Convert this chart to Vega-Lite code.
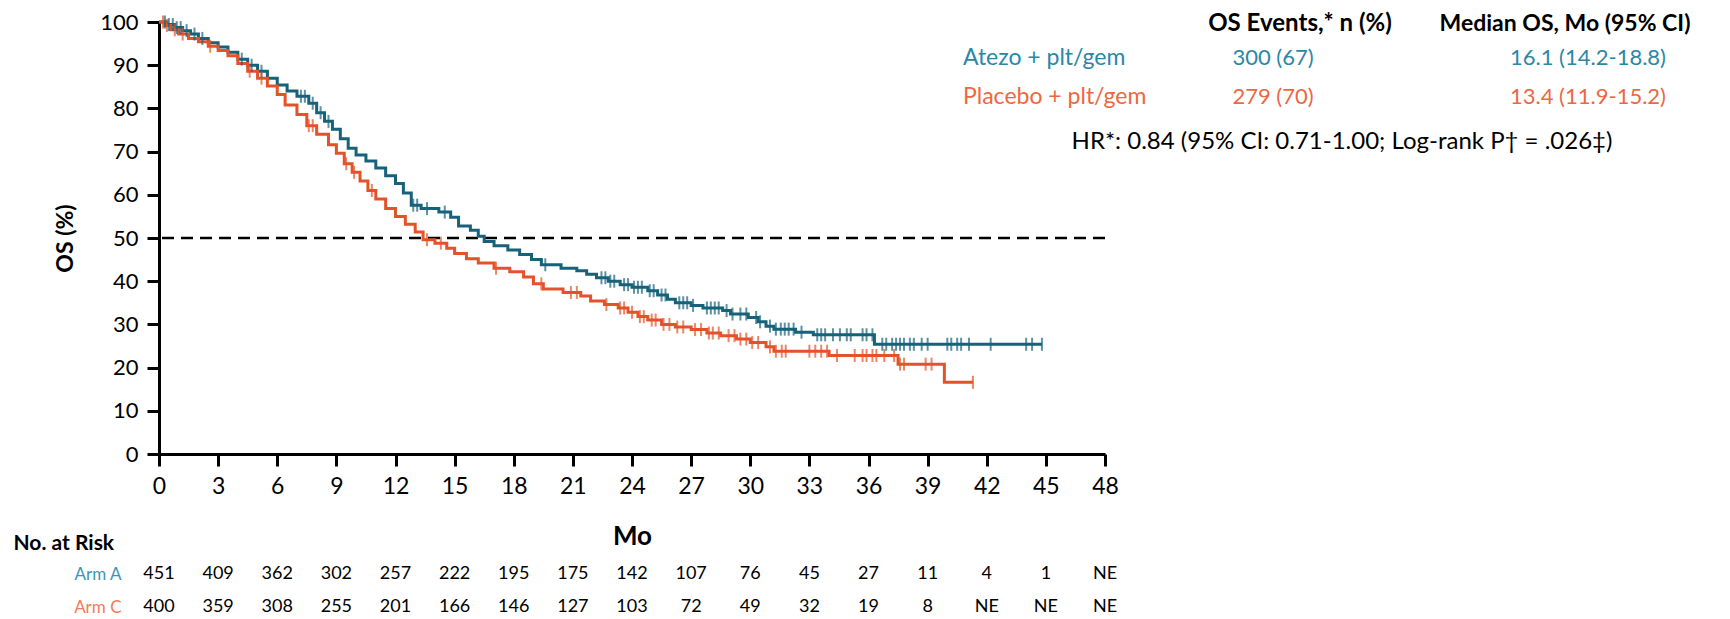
{
  "$schema": "https://vega.github.io/schema/vega-lite/v6.json",
  "width": 946,
  "height": 432,
  "autosize": "none",
  "padding": {"left": 159, "top": 22, "right": 625, "bottom": 165},
  "background": "white",
  "config": {
    "view": {"stroke": null},
    "font": "Lato",
    "axis": {"grid": false, "labelColor": "black", "titleColor": "black", "domainColor": "black", "tickColor": "black", "labelFont": "Lato", "titleFont": "Lato"}
  },
  "datasets": {
    "curve": [
      {"arm":"A","month":0,"surv":100},{"arm":"A","month":0.4,"surv":99.4},{"arm":"A","month":0.8,"surv":98.7},{"arm":"A","month":1.2,"surv":98.0},{"arm":"A","month":1.6,"surv":97.2},{"arm":"A","month":2.0,"surv":96.2},{"arm":"A","month":2.5,"surv":95.2},{"arm":"A","month":3.0,"surv":94.2},{"arm":"A","month":3.5,"surv":93.0},{"arm":"A","month":4.0,"surv":91.4},{"arm":"A","month":4.5,"surv":90.0},{"arm":"A","month":5.0,"surv":88.6},{"arm":"A","month":5.5,"surv":87.0},{"arm":"A","month":6.0,"surv":85.4},{"arm":"A","month":6.5,"surv":84.0},{"arm":"A","month":7.0,"surv":82.8},{"arm":"A","month":7.6,"surv":81.2},{"arm":"A","month":8.0,"surv":79.0},{"arm":"A","month":8.4,"surv":77.0},{"arm":"A","month":8.8,"surv":75.2},{"arm":"A","month":9.2,"surv":73.0},{"arm":"A","month":9.6,"surv":70.8},{"arm":"A","month":10.0,"surv":69.2},{"arm":"A","month":10.5,"surv":67.8},{"arm":"A","month":11.0,"surv":66.2},{"arm":"A","month":11.5,"surv":64.4},{"arm":"A","month":12.0,"surv":62.6},{"arm":"A","month":12.4,"surv":60.4},{"arm":"A","month":12.8,"surv":57.6},{"arm":"A","month":13.3,"surv":56.8},{"arm":"A","month":14.2,"surv":56.0},{"arm":"A","month":14.8,"surv":54.8},{"arm":"A","month":15.2,"surv":52.8},{"arm":"A","month":15.8,"surv":51.8},{"arm":"A","month":16.2,"surv":50.4},{"arm":"A","month":16.5,"surv":49.2},{"arm":"A","month":17.0,"surv":48.2},{"arm":"A","month":17.7,"surv":47.2},{"arm":"A","month":18.3,"surv":46.2},{"arm":"A","month":18.9,"surv":45.0},{"arm":"A","month":19.4,"surv":43.8},{"arm":"A","month":20.4,"surv":43.0},{"arm":"A","month":21.2,"surv":42.4},{"arm":"A","month":21.7,"surv":41.6},{"arm":"A","month":22.2,"surv":40.8},{"arm":"A","month":22.8,"surv":40.0},{"arm":"A","month":23.4,"surv":39.2},{"arm":"A","month":24.0,"surv":38.6},{"arm":"A","month":24.8,"surv":37.8},{"arm":"A","month":25.3,"surv":36.8},{"arm":"A","month":25.8,"surv":35.8},{"arm":"A","month":26.2,"surv":35.0},{"arm":"A","month":27.0,"surv":34.4},{"arm":"A","month":27.6,"surv":33.8},{"arm":"A","month":28.6,"surv":33.2},{"arm":"A","month":29.0,"surv":32.4},{"arm":"A","month":29.9,"surv":31.6},{"arm":"A","month":30.4,"surv":30.6},{"arm":"A","month":30.8,"surv":29.6},{"arm":"A","month":31.2,"surv":28.9},{"arm":"A","month":32.3,"surv":28.2},{"arm":"A","month":33.2,"surv":27.6},{"arm":"A","month":36.3,"surv":25.4},{"arm":"A","month":44.8,"surv":25.4},
      {"arm":"C","month":0,"surv":100},{"arm":"C","month":0.3,"surv":99.2},{"arm":"C","month":0.6,"surv":98.2},{"arm":"C","month":1.0,"surv":97.2},{"arm":"C","month":1.5,"surv":96.2},{"arm":"C","month":2.0,"surv":95.4},{"arm":"C","month":2.5,"surv":94.4},{"arm":"C","month":3.0,"surv":93.4},{"arm":"C","month":3.5,"surv":92.2},{"arm":"C","month":4.0,"surv":90.4},{"arm":"C","month":4.5,"surv":88.6},{"arm":"C","month":5.0,"surv":87.0},{"arm":"C","month":5.5,"surv":85.2},{"arm":"C","month":6.0,"surv":83.2},{"arm":"C","month":6.4,"surv":80.8},{"arm":"C","month":7.0,"surv":78.6},{"arm":"C","month":7.5,"surv":76.0},{"arm":"C","month":8.0,"surv":74.0},{"arm":"C","month":8.6,"surv":71.6},{"arm":"C","month":9.0,"surv":69.6},{"arm":"C","month":9.4,"surv":67.2},{"arm":"C","month":9.8,"surv":65.2},{"arm":"C","month":10.2,"surv":63.2},{"arm":"C","month":10.6,"surv":61.0},{"arm":"C","month":11.0,"surv":59.0},{"arm":"C","month":11.5,"surv":56.8},{"arm":"C","month":12.0,"surv":55.0},{"arm":"C","month":12.5,"surv":53.2},{"arm":"C","month":13.0,"surv":51.4},{"arm":"C","month":13.4,"surv":49.6},{"arm":"C","month":14.0,"surv":48.8},{"arm":"C","month":14.6,"surv":47.6},{"arm":"C","month":15.0,"surv":46.4},{"arm":"C","month":15.6,"surv":45.2},{"arm":"C","month":16.2,"surv":44.2},{"arm":"C","month":17.0,"surv":43.0},{"arm":"C","month":17.8,"surv":42.2},{"arm":"C","month":18.5,"surv":41.0},{"arm":"C","month":19.0,"surv":39.4},{"arm":"C","month":19.5,"surv":38.2},{"arm":"C","month":20.5,"surv":37.4},{"arm":"C","month":21.4,"surv":36.6},{"arm":"C","month":21.9,"surv":35.4},{"arm":"C","month":22.6,"surv":34.6},{"arm":"C","month":23.3,"surv":33.8},{"arm":"C","month":23.8,"surv":32.8},{"arm":"C","month":24.3,"surv":31.8},{"arm":"C","month":24.8,"surv":31.0},{"arm":"C","month":25.5,"surv":30.0},{"arm":"C","month":26.2,"surv":29.4},{"arm":"C","month":27.0,"surv":28.8},{"arm":"C","month":27.8,"surv":28.0},{"arm":"C","month":28.5,"surv":27.4},{"arm":"C","month":29.3,"surv":26.6},{"arm":"C","month":30.0,"surv":25.8},{"arm":"C","month":30.8,"surv":24.8},{"arm":"C","month":31.2,"surv":23.8},{"arm":"C","month":34.0,"surv":22.8},{"arm":"C","month":37.5,"surv":20.8},{"arm":"C","month":39.85,"surv":16.6},{"arm":"C","month":41.3,"surv":16.6}
    ],
    "censor": [
      {"arm":"A","month":0.3,"surv":100},{"arm":"A","month":0.5,"surv":99.4},{"arm":"A","month":0.7,"surv":99.4},{"arm":"A","month":0.9,"surv":98.7},{"arm":"A","month":1.1,"surv":98.7},{"arm":"A","month":1.4,"surv":98.0},{"arm":"A","month":1.8,"surv":97.2},{"arm":"A","month":2.2,"surv":96.2},{"arm":"A","month":4.2,"surv":91.4},{"arm":"A","month":4.7,"surv":90.0},{"arm":"A","month":5.2,"surv":88.6},{"arm":"A","month":7.2,"surv":82.8},{"arm":"A","month":7.4,"surv":82.8},{"arm":"A","month":7.8,"surv":81.2},{"arm":"A","month":8.2,"surv":79.0},{"arm":"A","month":8.6,"surv":77.0},{"arm":"A","month":12.9,"surv":57.6},{"arm":"A","month":13.1,"surv":57.6},{"arm":"A","month":13.6,"surv":56.8},{"arm":"A","month":14.5,"surv":56.0},{"arm":"A","month":19.6,"surv":43.8},{"arm":"A","month":22.45,"surv":40.8},{"arm":"A","month":22.65,"surv":40.8},{"arm":"A","month":22.9,"surv":40.0},{"arm":"A","month":23.1,"surv":40.0},{"arm":"A","month":23.6,"surv":39.2},{"arm":"A","month":23.8,"surv":39.2},{"arm":"A","month":24.1,"surv":38.6},{"arm":"A","month":24.3,"surv":38.6},{"arm":"A","month":24.5,"surv":38.6},{"arm":"A","month":24.9,"surv":37.8},{"arm":"A","month":25.1,"surv":37.8},{"arm":"A","month":25.5,"surv":36.8},{"arm":"A","month":25.7,"surv":36.8},{"arm":"A","month":26.4,"surv":35.0},{"arm":"A","month":26.6,"surv":35.0},{"arm":"A","month":26.8,"surv":35.0},{"arm":"A","month":27.1,"surv":34.4},{"arm":"A","month":27.8,"surv":33.8},{"arm":"A","month":28.0,"surv":33.8},{"arm":"A","month":28.2,"surv":33.8},{"arm":"A","month":28.4,"surv":33.8},{"arm":"A","month":28.8,"surv":33.2},{"arm":"A","month":29.1,"surv":32.4},{"arm":"A","month":29.5,"surv":32.4},{"arm":"A","month":29.8,"surv":32.4},{"arm":"A","month":30.3,"surv":31.6},{"arm":"A","month":30.5,"surv":30.6},{"arm":"A","month":31.0,"surv":29.6},{"arm":"A","month":31.3,"surv":28.9},{"arm":"A","month":31.55,"surv":28.9},{"arm":"A","month":31.75,"surv":28.9},{"arm":"A","month":31.95,"surv":28.9},{"arm":"A","month":32.2,"surv":28.9},{"arm":"A","month":32.6,"surv":28.2},{"arm":"A","month":33.4,"surv":27.6},{"arm":"A","month":33.6,"surv":27.6},{"arm":"A","month":33.8,"surv":27.6},{"arm":"A","month":34.2,"surv":27.6},{"arm":"A","month":34.55,"surv":27.6},{"arm":"A","month":34.9,"surv":27.6},{"arm":"A","month":35.1,"surv":27.6},{"arm":"A","month":35.7,"surv":27.6},{"arm":"A","month":35.9,"surv":27.6},{"arm":"A","month":36.2,"surv":27.6},{"arm":"A","month":36.7,"surv":25.4},{"arm":"A","month":36.9,"surv":25.4},{"arm":"A","month":37.2,"surv":25.4},{"arm":"A","month":37.4,"surv":25.4},{"arm":"A","month":37.6,"surv":25.4},{"arm":"A","month":37.8,"surv":25.4},{"arm":"A","month":38.1,"surv":25.4},{"arm":"A","month":38.3,"surv":25.4},{"arm":"A","month":38.7,"surv":25.4},{"arm":"A","month":39.0,"surv":25.4},{"arm":"A","month":40.0,"surv":25.4},{"arm":"A","month":40.2,"surv":25.4},{"arm":"A","month":40.5,"surv":25.4},{"arm":"A","month":40.7,"surv":25.4},{"arm":"A","month":41.1,"surv":25.4},{"arm":"A","month":42.2,"surv":25.4},{"arm":"A","month":44.0,"surv":25.4},{"arm":"A","month":44.3,"surv":25.4},{"arm":"A","month":44.8,"surv":25.4},
      {"arm":"C","month":0.2,"surv":100},{"arm":"C","month":0.4,"surv":99.2},{"arm":"C","month":0.8,"surv":98.2},{"arm":"C","month":1.2,"surv":97.2},{"arm":"C","month":2.6,"surv":94.4},{"arm":"C","month":4.6,"surv":88.6},{"arm":"C","month":5.2,"surv":87.0},{"arm":"C","month":7.6,"surv":76.0},{"arm":"C","month":7.8,"surv":76.0},{"arm":"C","month":9.5,"surv":67.2},{"arm":"C","month":9.9,"surv":65.2},{"arm":"C","month":10.8,"surv":61.0},{"arm":"C","month":13.6,"surv":49.6},{"arm":"C","month":14.3,"surv":48.8},{"arm":"C","month":17.1,"surv":43.0},{"arm":"C","month":19.4,"surv":39.4},{"arm":"C","month":20.9,"surv":37.4},{"arm":"C","month":21.2,"surv":37.4},{"arm":"C","month":22.7,"surv":34.6},{"arm":"C","month":23.4,"surv":33.8},{"arm":"C","month":23.6,"surv":33.8},{"arm":"C","month":24.0,"surv":32.8},{"arm":"C","month":24.4,"surv":31.8},{"arm":"C","month":24.6,"surv":31.8},{"arm":"C","month":25.0,"surv":31.0},{"arm":"C","month":25.2,"surv":31.0},{"arm":"C","month":25.6,"surv":30.0},{"arm":"C","month":25.9,"surv":30.0},{"arm":"C","month":26.3,"surv":29.4},{"arm":"C","month":26.6,"surv":29.4},{"arm":"C","month":27.2,"surv":28.8},{"arm":"C","month":27.5,"surv":28.8},{"arm":"C","month":27.9,"surv":28.0},{"arm":"C","month":28.1,"surv":28.0},{"arm":"C","month":28.4,"surv":28.0},{"arm":"C","month":28.9,"surv":27.4},{"arm":"C","month":29.2,"surv":27.4},{"arm":"C","month":29.5,"surv":26.6},{"arm":"C","month":29.8,"surv":26.6},{"arm":"C","month":30.1,"surv":25.8},{"arm":"C","month":30.4,"surv":25.8},{"arm":"C","month":31.0,"surv":24.8},{"arm":"C","month":31.3,"surv":23.8},{"arm":"C","month":31.6,"surv":23.8},{"arm":"C","month":31.8,"surv":23.8},{"arm":"C","month":33.0,"surv":23.8},{"arm":"C","month":33.3,"surv":23.8},{"arm":"C","month":33.6,"surv":23.8},{"arm":"C","month":33.9,"surv":23.8},{"arm":"C","month":34.4,"surv":22.8},{"arm":"C","month":35.3,"surv":22.8},{"arm":"C","month":35.7,"surv":22.8},{"arm":"C","month":35.9,"surv":22.8},{"arm":"C","month":36.2,"surv":22.8},{"arm":"C","month":36.4,"surv":22.8},{"arm":"C","month":36.8,"surv":22.8},{"arm":"C","month":37.3,"surv":22.8},{"arm":"C","month":37.6,"surv":20.8},{"arm":"C","month":37.8,"surv":20.8},{"arm":"C","month":38.9,"surv":20.8},{"arm":"C","month":39.2,"surv":20.8},{"arm":"C","month":41.3,"surv":16.6}
    ],
    "risk": [
      {"arm":"Arm A","month":0,"n":"451"},{"arm":"Arm A","month":3,"n":"409"},{"arm":"Arm A","month":6,"n":"362"},{"arm":"Arm A","month":9,"n":"302"},{"arm":"Arm A","month":12,"n":"257"},{"arm":"Arm A","month":15,"n":"222"},{"arm":"Arm A","month":18,"n":"195"},{"arm":"Arm A","month":21,"n":"175"},{"arm":"Arm A","month":24,"n":"142"},{"arm":"Arm A","month":27,"n":"107"},{"arm":"Arm A","month":30,"n":"76"},{"arm":"Arm A","month":33,"n":"45"},{"arm":"Arm A","month":36,"n":"27"},{"arm":"Arm A","month":39,"n":"11"},{"arm":"Arm A","month":42,"n":"4"},{"arm":"Arm A","month":45,"n":"1"},{"arm":"Arm A","month":48,"n":"NE"},
      {"arm":"Arm C","month":0,"n":"400"},{"arm":"Arm C","month":3,"n":"359"},{"arm":"Arm C","month":6,"n":"308"},{"arm":"Arm C","month":9,"n":"255"},{"arm":"Arm C","month":12,"n":"201"},{"arm":"Arm C","month":15,"n":"166"},{"arm":"Arm C","month":18,"n":"146"},{"arm":"Arm C","month":21,"n":"127"},{"arm":"Arm C","month":24,"n":"103"},{"arm":"Arm C","month":27,"n":"72"},{"arm":"Arm C","month":30,"n":"49"},{"arm":"Arm C","month":33,"n":"32"},{"arm":"Arm C","month":36,"n":"19"},{"arm":"Arm C","month":39,"n":"8"},{"arm":"Arm C","month":42,"n":"NE"},{"arm":"Arm C","month":45,"n":"NE"},{"arm":"Arm C","month":48,"n":"NE"}
    ],
    "legend": [
      {"row":"A","col":"label","arm":"A","text":"Atezo + plt/gem"},
      {"row":"A","col":"events","arm":"A","text":"300 (67)"},
      {"row":"A","col":"median","arm":"A","text":"16.1 (14.2-18.8)"},
      {"row":"C","col":"label","arm":"C","text":"Placebo + plt/gem"},
      {"row":"C","col":"events","arm":"C","text":"279 (70)"},
      {"row":"C","col":"median","arm":"C","text":"13.4 (11.9-15.2)"}
    ],
    "headers": [
      {"row":"hdr","col":"events","text":"OS Events,* n (%)"},
      {"row":"hdr","col":"median","text":"Median OS, Mo (95% CI)"},
      {"row":"hr","col":"events","text":"HR*: 0.84 (95% CI: 0.71-1.00; Log-rank P† = .026‡)"}
    ],
    "ref": [{"ref": 50}]
  },
  "layer": [
    {
      "layer": [
        {
          "data": {"name": "ref"},
          "mark": {"type": "rule", "stroke": "black", "strokeWidth": 2.5, "strokeDash": [12, 7]},
          "encoding": {"y": {"field": "ref", "type": "quantitative"}}
        },
        {
          "data": {"name": "curve"},
          "mark": {"type": "line", "interpolate": "step-after", "strokeWidth": 3},
          "encoding": {
            "x": {"field": "month", "type": "quantitative", "scale": {"domain": [0, 48], "nice": false},
                  "axis": {"values": [0,3,6,9,12,15,18,21,24,27,30,33,36,39,42,45,48], "title": "Mo", "titleFontSize": 26, "titleFontWeight": "bold", "titlePadding": 25, "labelFontSize": 23, "labelPadding": 9, "tickSize": 12, "tickWidth": 3, "domainWidth": 3, "labelFlush": false}},
            "y": {"field": "surv", "type": "quantitative", "scale": {"domain": [0, 100], "nice": false},
                  "axis": {"values": [0,10,20,30,40,50,60,70,80,90,100], "title": "OS (%)", "titleFontSize": 23, "titleFontWeight": "bold", "titlePadding": 22, "labelFontSize": 22, "labelPadding": 9, "tickSize": 12, "tickWidth": 3, "domainWidth": 3, "labelFlush": false}},
            "color": {"field": "arm", "type": "nominal", "scale": {"domain": ["A", "C"], "range": ["#17627a", "#e4522a"]}, "legend": null},
            "detail": {"field": "arm"}
          }
        },
        {
          "data": {"name": "censor"},
          "mark": {"type": "tick", "orient": "vertical", "size": 13, "thickness": 2},
          "encoding": {
            "x": {"field": "month", "type": "quantitative"},
            "y": {"field": "surv", "type": "quantitative"},
            "color": {"field": "arm", "type": "nominal", "legend": null}
          }
        }
      ]
    },
    {
      "layer": [
        {
          "data": {"name": "legend"},
          "transform": [{"filter": "datum.col === 'label'"}],
          "mark": {"type": "text", "align": "left", "baseline": "middle", "fontSize": 23, "dy": -3},
          "encoding": {
            "x": {"field": "col", "type": "nominal", "scale": {"type": "point", "domain": ["label", "events", "median"], "range": [804, 1434], "padding": 0}, "axis": null},
            "y": {"field": "row", "type": "nominal", "scale": {"type": "point", "domain": ["hdr", "A", "C", "hr"], "range": [0, 117], "padding": 0}, "axis": null},
            "text": {"field": "text"},
            "color": {"field": "arm", "type": "nominal", "scale": {"domain": ["A", "C"], "range": ["#2a87a6", "#ee6742"]}, "legend": null}
          }
        },
        {
          "data": {"name": "legend"},
          "transform": [{"filter": "datum.col !== 'label'"}],
          "mark": {"type": "text", "align": "center", "baseline": "middle", "fontSize": 22, "dy": -3, "dx": -5},
          "encoding": {
            "x": {"field": "col", "type": "nominal"},
            "y": {"field": "row", "type": "nominal"},
            "text": {"field": "text"},
            "color": {"field": "arm", "type": "nominal", "legend": null}
          }
        },
        {
          "data": {"name": "headers"},
          "transform": [{"filter": "datum.row === 'hdr' && datum.col === 'events'"}],
          "mark": {"type": "text", "align": "center", "baseline": "middle", "fontSize": 24, "fontWeight": "bold", "color": "black", "dx": 22, "dy": 2},
          "encoding": {
            "x": {"field": "col", "type": "nominal"},
            "y": {"field": "row", "type": "nominal"},
            "text": {"field": "text"}
          }
        },
        {
          "data": {"name": "headers"},
          "transform": [{"filter": "datum.row === 'hdr' && datum.col === 'median'"}],
          "mark": {"type": "text", "align": "center", "baseline": "middle", "fontSize": 23, "fontWeight": "bold", "color": "black", "dx": -28, "dy": 2},
          "encoding": {
            "x": {"field": "col", "type": "nominal"},
            "y": {"field": "row", "type": "nominal"},
            "text": {"field": "text"}
          }
        },
        {
          "data": {"name": "headers"},
          "transform": [{"filter": "datum.row === 'hr'"}],
          "mark": {"type": "text", "align": "center", "baseline": "middle", "fontSize": 24, "color": "black", "dx": 64, "dy": 3},
          "encoding": {
            "x": {"field": "col", "type": "nominal"},
            "y": {"field": "row", "type": "nominal"},
            "text": {"field": "text"}
          }
        }
      ]
    },
    {
      "data": {"name": "risk"},
      "mark": {"type": "text", "align": "center", "baseline": "middle", "fontSize": 18, "color": "black"},
      "encoding": {
        "x": {"field": "month", "type": "quantitative", "scale": {"domain": [0, 48], "nice": false}, "axis": null},
        "y": {"field": "arm", "type": "nominal", "scale": {"type": "point", "domain": ["Arm A", "Arm C"], "range": [552, 585], "padding": 0},
              "axis": {"orient": "left", "domain": false, "ticks": false, "tickSize": 0, "labelPadding": 38, "labelFontSize": 17, "labelAlign": "right",
                       "labelColor": {"condition": {"test": "datum.value === 'Arm A'", "value": "#3b95b8"}, "value": "#f47a57"},
                       "title": "No. at Risk", "titleAngle": 0, "titleAlign": "left", "titleBaseline": "middle", "titleX": -146, "titleY": 521, "titleFontSize": 21, "titleFontWeight": "bold", "titleColor": "black"}},
        "text": {"field": "n"}
      }
    }
  ],
  "resolve": {"scale": {"x": "independent", "y": "independent", "color": "independent"}, "axis": {"x": "independent", "y": "independent"}}
}
